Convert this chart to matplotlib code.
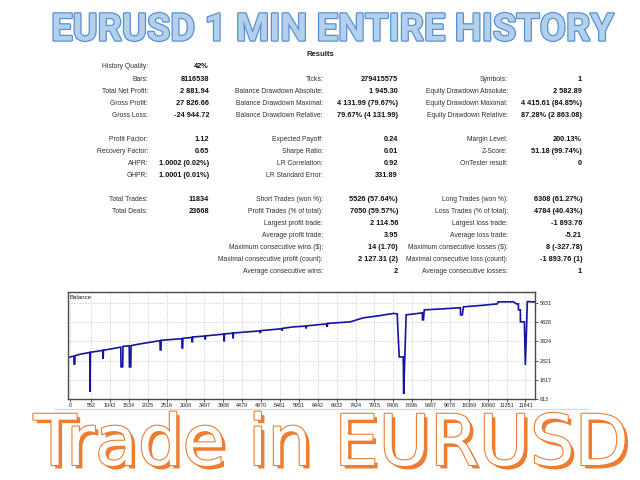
import matplotlib
matplotlib.use("Agg")
import matplotlib.pyplot as plt
import matplotlib.patheffects as pe

plt.rcParams["font.family"] = ["Liberation Sans", "DejaVu Sans"]

# Curva de balance (número de operación, balance)
balance_trades = [0, 60, 100, 105, 125, 130, 260, 400, 515, 520, 530, 780, 850, 860, 870,
                  1100, 1320, 1327, 1370, 1378, 1540, 1545, 1580, 1588, 1820, 2100, 2340,
                  2345, 2365, 2370, 2700, 2910, 2915, 2930, 2935, 3170, 3175, 3185, 3190,
                  3505, 3510, 3520, 3525, 4000, 4004, 4012, 4016, 4235, 4238, 4245, 4250,
                  4944, 4950, 4956, 5500, 5512, 5518, 5525, 5802, 6136, 6141, 6150, 6680,
                  6687, 6700, 7286, 7624, 8000, 8405, 8509, 8515, 8560, 8665, 8675, 8740,
                  9160, 9165, 9190, 9211, 9700, 10096, 10150, 10155, 10200, 10230, 10700,
                  11110, 11130, 11527, 11605, 11657, 11660, 11709, 11712, 11813, 11839,
                  11865, 11891, 12090]
balance_values = [3000, 3040, 3050, 2640, 2640, 3070, 3150, 3200, 3240, 1180, 3250, 3330,
                  3350, 2905, 3360, 3440, 3520, 2490, 2490, 3560, 3590, 2490, 2490, 3600,
                  3690, 3780, 3860, 3375, 3375, 3880, 3930, 3960, 3480, 3480, 3980, 4030,
                  3800, 3800, 4050, 4100, 3950, 3950, 4110, 4200, 3850, 3850, 4210, 4250,
                  4010, 4010, 4260, 4370, 4250, 4380, 4480, 4500, 4380, 4500, 4578, 4620,
                  4500, 4630, 4735, 4580, 4760, 4840, 5050, 5150, 5280, 5260, 4840, 3010,
                  3010, 1075, 5206, 5310, 4945, 4945, 5468, 5520, 5573, 5573, 5206, 5206,
                  5625, 5700, 5780, 5886, 5886, 5780, 5780, 5468, 5468, 4840, 4840, 2591,
                  4160, 5900, 5882]

x_tick_labels = ["0", "552", "1043", "1534", "2025", "2516", "3006", "3497", "3988",
                 "4479", "4970", "5461", "5951", "6442", "6933", "7424", "7915", "8406",
                 "8896", "9387", "9878", "10369", "10860", "11351", "11841"]
y_tick_values = [813, 1817, 2821, 3824, 4828, 5831]

# Tabla de resultados: una lista por columna, None = fila vacía
col1_labels = ["History Quality:", "Bars:", "Total Net Profit:", "Gross Profit:", "Gross Loss:",
               None, "Profit Factor:", "Recovery Factor:", "AHPR:", "GHPR:", None,
               "Total Trades:", "Total Deals:", None, None, None, None, None]
col1_values = ["42%", "8116538", "2 881.94", "27 826.66", "-24 944.72",
               None, "1.12", "0.65", "1.0002 (0.02%)", "1.0001 (0.01%)", None,
               "11834", "23668", None, None, None, None, None]
col2_labels = [None, "Ticks:", "Balance Drawdown Absolute:", "Balance Drawdown Maximal:",
               "Balance Drawdown Relative:", None, "Expected Payoff:", "Sharpe Ratio:",
               "LR Correlation:", "LR Standard Error:", None, "Short Trades (won %):",
               "Profit Trades (% of total):", "Largest profit trade:", "Average profit trade:",
               "Maximum consecutive wins ($):", "Maximal consecutive profit (count):",
               "Average consecutive wins:"]
col2_values = [None, "279415575", "1 945.30", "4 131.99 (79.67%)", "79.67% (4 131.99)", None,
               "0.24", "0.01", "0.92", "331.89", None, "5526 (57.64%)", "7050 (59.57%)",
               "2 114.56", "3.95", "14 (1.70)", "2 127.31 (2)", "2"]
col3_labels = [None, "Symbols:", "Equity Drawdown Absolute:", "Equity Drawdown Maximal:",
               "Equity Drawdown Relative:", None, "Margin Level:", "Z-Score:",
               "OnTester result:", None, None, "Long Trades (won %):",
               "Loss Trades (% of total):", "Largest loss trade:", "Average loss trade:",
               "Maximum consecutive losses ($):", "Maximal consecutive loss (count):",
               "Average consecutive losses:"]
col3_values = [None, "1", "2 582.89", "4 415.61 (84.85%)", "87.28% (2 863.08)", None,
               "200.13%", "51.18 (99.74%)", "0", None, None, "6308 (61.27%)",
               "4784 (40.43%)", "-1 893.76", "-5.21", "8 (-327.78)", "-1 893.76 (1)", "1"]

W, H = 640, 480
fig = plt.figure(figsize=(W / 100, H / 100), dpi=100)
fig.patch.set_facecolor("white")


def fx(x):
    return x / W


def fy(y):
    return 1 - y / H


def fit_width(txt, target_px):
    # ajusta el tamaño de letra para que el texto ocupe el ancho deseado
    renderer = fig.canvas.get_renderer()
    w = txt.get_window_extent(renderer).width
    txt.set_fontsize(txt.get_fontsize() * target_px / w)


# Título superior
title = fig.text(fx(332), fy(30), "EURUSD 1 MIN ENTIRE HISTORY", ha="center", va="center",
                 fontsize=30, fontweight="bold", family=["Roboto", "DejaVu Sans"],
                 color="#B3D0EC",
                 path_effects=[pe.Stroke(linewidth=1.8, foreground="#5A8FD2"), pe.Normal()])
fit_width(title, 562)

fig.text(fx(320), fy(55), "Results", ha="center", va="center", fontsize=5.6,
         fontweight="bold", color="#202020")

# Tabla de estadísticas
columns = [(col1_labels, col1_values, 148, 209),
           (col2_labels, col2_values, 323, 398),
           (col3_labels, col3_values, 508, 582)]
for labels, values, lab_right, val_right in columns:
    for r, (lab, val) in enumerate(zip(labels, values)):
        if lab is None:
            continue
        y = 67 + 12.05 * r
        fig.text(fx(lab_right), fy(y), lab, ha="right", va="center", fontsize=4.9,
                 color="#303030")
        fig.text(fx(val_right), fy(y), val, ha="right", va="center", fontsize=5.3,
                 fontweight="bold", color="#101010")

# Gráfico de balance
ax = fig.add_axes([fx(68), fy(399), (535 - 68) / W, (399 - 292) / H])
ax.plot(balance_trades, balance_values, color="#1414A0", linewidth=1.2, solid_joinstyle="miter")
ax.set_xlim(-52, 12090)
ax.set_ylim(813, 6400)
ax.set_xticks([int(v) for v in x_tick_labels])
ax.set_xticklabels(x_tick_labels)
ax.set_yticks(y_tick_values)
ax.yaxis.tick_right()
ax.tick_params(axis="both", labelsize=3.9, length=2, width=0.5, pad=1.2, colors="#202020")
ax.grid(True, color="#C4C4C4", linestyle=(0, (2, 2)), linewidth=0.5)
for side in ax.spines.values():
    side.set_color("#4A4A4A")
    side.set_linewidth(1.0)
ax.text(0.004, 0.975, "Balance", transform=ax.transAxes, ha="left", va="top", fontsize=4.4,
        color="#202020")

# línea separadora bajo el gráfico
fig.add_artist(plt.Line2D([fx(55), fx(588)], [fy(409), fy(409)], color="#D5DCE6", linewidth=1.0))

# Texto inferior (caja entre las etiquetas del eje y el borde)
bottom = fig.text(fx(331), fy(479), "Trade in EURUSD", ha="center", va="bottom",
                  fontsize=50, family=["DejaVu Sans"], color="white",
                  path_effects=[pe.SimplePatchShadow(offset=(2.5, -2.5), shadow_rgbFace="#ED7D31", alpha=1.0),
                                pe.Stroke(linewidth=1.6, foreground="#ED7D31"), pe.Normal()])
fit_width(bottom, 596)
renderer = fig.canvas.get_renderer()
box_h = bottom.get_window_extent(renderer).height
if box_h > 69:
    bottom.set_fontsize(bottom.get_fontsize() * 69 / box_h)

fig.savefig("out.png", dpi=100, facecolor="white")
